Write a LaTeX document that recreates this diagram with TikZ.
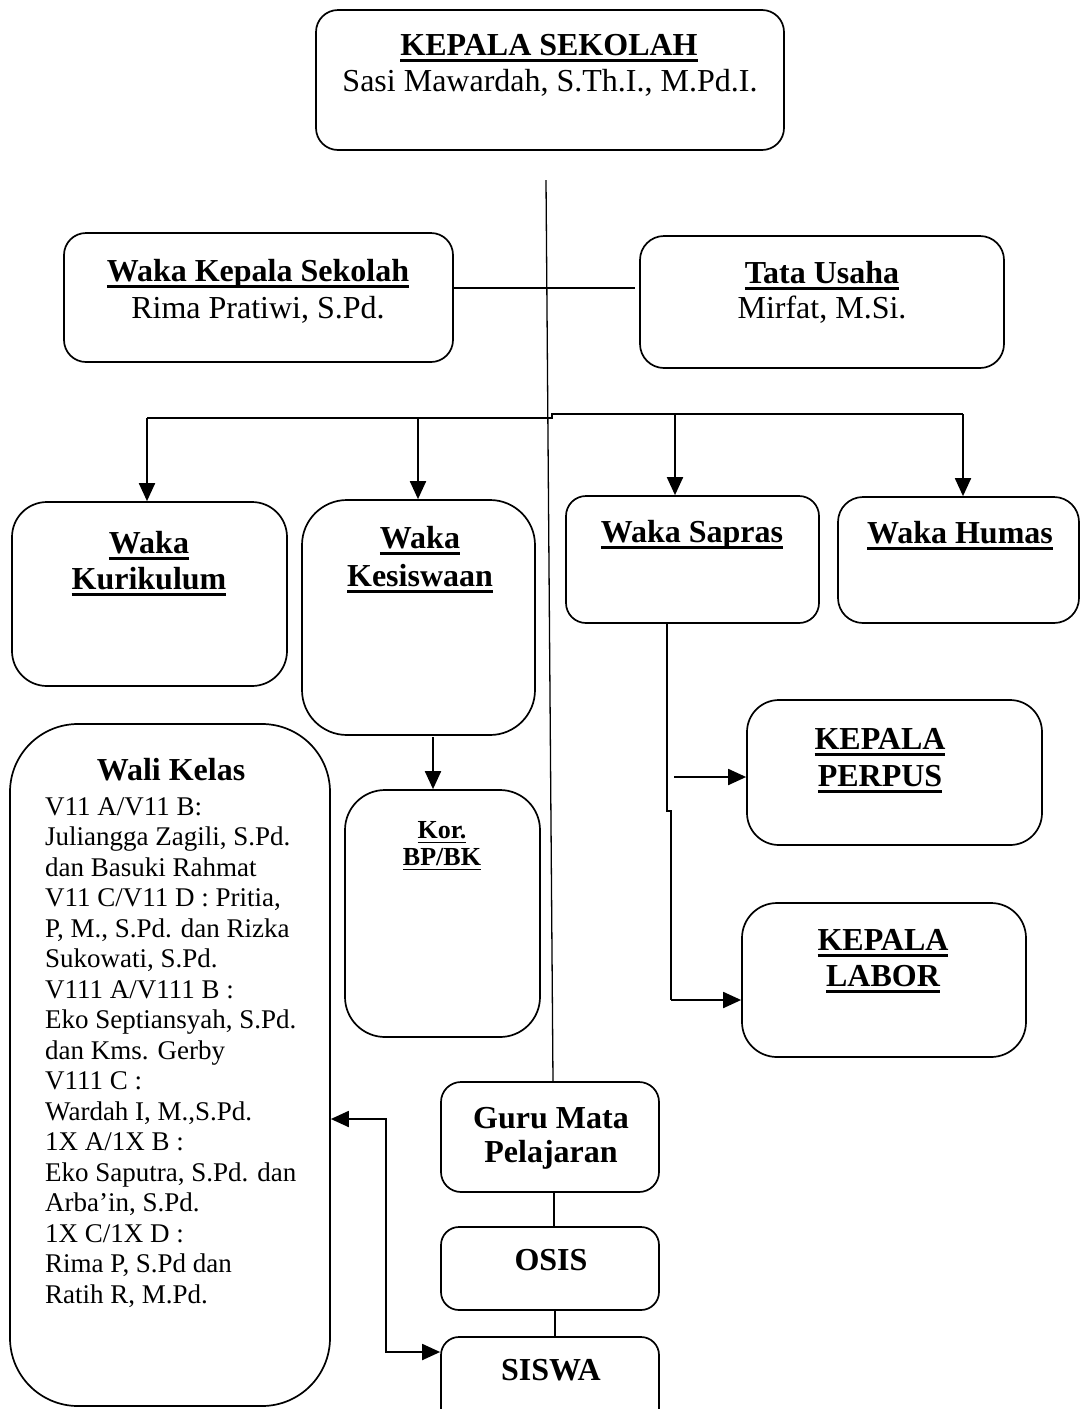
\documentclass[tikz,border=0pt]{standalone}
\usepackage{fontspec}
\setmainfont{Liberation Serif}
\usetikzlibrary{arrows.meta}
\newcommand\ulx[1]{\setbox0\hbox{#1}\rlap{\rule[-0.21em]{\wd0}{0.075em}}\box0}
\begin{document}
\begin{tikzpicture}[x=1pt,y=-1pt,
  box/.style={draw, line width=1.7pt, rounded corners=#1, inner sep=0pt},
  rg/.style={font=\fontsize{32}{36}\selectfont, inner sep=0pt, anchor=base},
  bd/.style={font=\bfseries\fontsize{32}{36}\selectfont, inner sep=0pt, anchor=base},
  sm/.style={font=\bfseries\fontsize{26}{30}\selectfont, inner sep=0pt, anchor=base},
  wt/.style={font=\fontsize{27}{30}\selectfont, inner sep=0pt, anchor=base west},
  conn/.style={line width=1.9pt},
  thinl/.style={line width=1.3pt},
  arr/.style={line width=1.9pt, -{Triangle[length=18pt,width=16pt]}},
  dbl/.style={line width=1.9pt, {Triangle[length=18pt,width=16pt]}-{Triangle[length=18pt,width=16pt]}}]
\useasboundingbox (0,0) rectangle (1081,1409);
\clip (0,0) rectangle (1081,1409);
\fill[white] (0,0) rectangle (1081,1409);

% boxes
\node[box=22, minimum width=468pt, minimum height=140pt] (ks) at (550,80) {};
\node[box=22, minimum width=389pt, minimum height=129pt] (wks) at (258.5,297.5) {};
\node[box=24, minimum width=364pt, minimum height=132pt] (tu) at (822,302) {};
\node[box=35, minimum width=275pt, minimum height=184pt] (kur) at (149.5,594) {};
\node[box=45, minimum width=233pt, minimum height=235pt] (kes) at (418.5,617.5) {};
\node[box=20, minimum width=253pt, minimum height=127pt] (sap) at (692.5,559.5) {};
\node[box=25, minimum width=241pt, minimum height=126pt] (hum) at (958.5,560) {};
\node[box=32, minimum width=295pt, minimum height=145pt] (perp) at (894.5,772.5) {};
\node[box=35, minimum width=284pt, minimum height=154pt] (lab) at (884,980) {};
\node[box=68, minimum width=320pt, minimum height=682pt] (wali) at (170,1065) {};
\node[box=40, minimum width=195pt, minimum height=247pt] (kor) at (442.5,913.5) {};
\node[box=20, minimum width=218pt, minimum height=110pt] (guru) at (550,1137) {};
\node[box=18, minimum width=218pt, minimum height=83pt] (osis) at (550,1268.5) {};
\node[box=18, minimum width=218pt, minimum height=93pt] (siswa) at (550,1383.5) {};

% texts
\node[bd] (ks1) at (549,55) {\ulx{KEPALA SEKOLAH}};
\node[rg] (ks2) at (550,91) {Sasi Mawardah, S.Th.I., M.Pd.I.};
\node[bd] (wks1) at (258,281) {\ulx{Waka Kepala Sekolah}};
\node[rg] (wks2) at (258,318) {Rima Pratiwi, S.Pd.};
\node[bd] (tu1) at (822,283) {\ulx{Tata Usaha}};
\node[rg] (tu2) at (822,318) {Mirfat, M.Si.};
\node[bd] (kur1) at (149,553) {\ulx{Waka}};
\node[bd] (kur2) at (149,589) {\ulx{Kurikulum}};
\node[bd] (kes1) at (420,548) {\ulx{Waka}};
\node[bd] (kes2) at (420,586) {\ulx{Kesiswaan}};
\node[bd] (sap1) at (692,542) {\ulx{Waka Sapras}};
\node[bd] (hum1) at (960,543) {\ulx{Waka Humas}};
\node[bd] (perp1) at (880,749) {\ulx{KEPALA}};
\node[bd] (perp2) at (880,786) {\ulx{PERPUS}};
\node[bd] (lab1) at (883,950) {\ulx{KEPALA}};
\node[bd] (lab2) at (883,986) {\ulx{LABOR}};
\node[sm] (kor1) at (442,838) {\ulx{Kor.}};
\node[sm] (kor2) at (442,865) {\ulx{BP/BK}};
\node[bd] (guru1) at (551,1128) {Guru Mata};
\node[bd] (guru2) at (551,1162) {Pelajaran};
\node[bd] (osis1) at (551,1270) {OSIS};
\node[bd] (siswa1) at (551,1380) {SISWA};
\node[bd] (wali0) at (171,780) {Wali Kelas};
\foreach \t [count=\i] in {{V11 A/V11 B:},{Juliangga Zagili, S.Pd.},{dan Basuki Rahmat},{V11 C/V11 D : Pritia,},{P, M., S.Pd. dan Rizka},{Sukowati, S.Pd.},{V111 A/V111 B :},{Eko Septiansyah, S.Pd.},{dan Kms. Gerby},{V111 C :},{Wardah I, M.,S.Pd.},{1X A/1X B :},{Eko Saputra, S.Pd. dan},{Arba’in, S.Pd.},{1X C/1X D :},{Rima P, S.Pd dan},{Ratih R, M.Pd.}}
  \node[wt] (w\i) at (45,{815+30.5*(\i-1)}) {\t};

% connectors
\coordinate (vt) at (546,180);
\draw[thinl] (vt) -- ([xshift=3pt]guru.north);
\coordinate (hh) at (0,288);
\draw[conn] (wks.east |- hh) -- ([xshift=-4pt]tu.west |- hh);
\coordinate (b1) at (147,418);
\coordinate (b2) at (552,418);
\coordinate (b3) at (552,414);
\coordinate (b4) at (963,414);
\draw[conn] (b1) -- (b2) -- (b3) -- (b4);
\coordinate (a2) at (418,418);
\coordinate (a3) at (675,414);
\draw[arr] (b1) -- (b1 |- kur.north);
\draw[arr] (a2) -- (a2 |- kes.north);
\draw[arr] (a3) -- (a3 |- sap.north);
\draw[arr] (b4) -- (b4 |- hum.north);
\coordinate (a5) at (433,737);
\draw[arr] (a5) -- (a5 |- kor.north);
\coordinate (s1) at (667,811);
\coordinate (s2) at (671,811);
\coordinate (s3) at (671,1000);
\draw[thinl] (sap.south -| s1) -- (s1) -- (s2) -- (s3);
\draw[arr] (s3) -- (s3 -| lab.west);
\coordinate (p0) at (674,777);
\draw[arr] (p0) -- (p0 -| perp.west);
\draw[conn] ([xshift=4pt]guru.south) -- ([xshift=4pt]osis.north);
\draw[conn] ([xshift=5pt]osis.south) -- ([xshift=5pt]siswa.north);
\coordinate (d1) at (386,1119);
\coordinate (d2) at (386,1352);
\draw[dbl] (d1 -| wali.east) -- (d1) -- (d2) -- (d2 -| siswa.west);
\end{tikzpicture}
\end{document}
